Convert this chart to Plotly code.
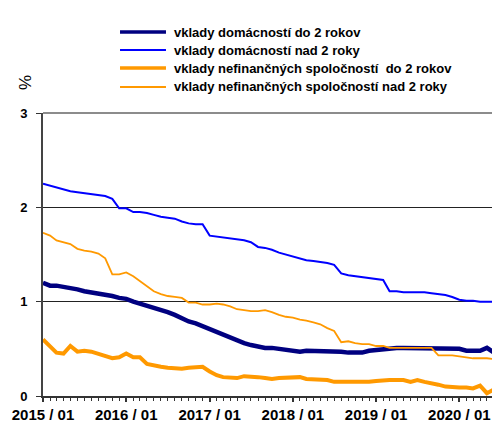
import plotly.graph_objects as go
import pandas as pd

months = pd.date_range("2015-01-01", periods=66, freq="MS")

series_names = [
    "vklady domácností do 2 rokov",
    "vklady domácností nad 2 roky",
    "vklady nefinančných spoločností  do 2 rokov",
    "vklady nefinančných spoločností nad 2 roky",
]

hh_short = [1.20, 1.17, 1.17, 1.16, 1.15, 1.13, 1.11, 1.10, 1.09, 1.07,
            1.06, 1.04, 1.03, 1.00, 0.98, 0.96, 0.93, 0.91, 0.89, 0.86,
            0.82, 0.79, 0.77, 0.74, 0.70, 0.67, 0.64, 0.62, 0.58, 0.56,
            0.54, 0.52, 0.51, 0.51, 0.50, 0.49, 0.48, 0.47, 0.48, 0.48,
            0.48, 0.48, 0.47, 0.47, 0.46, 0.46, 0.46, 0.48, 0.49, 0.50,
            0.51, 0.51, 0.51, 0.51, 0.51, 0.51, 0.51, 0.51, 0.51, 0.50,
            0.50, 0.48, 0.48, 0.48, 0.51, 0.46]

hh_long = [2.25, 2.23, 2.21, 2.19, 2.17, 2.16, 2.15, 2.14, 2.13, 2.12,
           2.09, 1.99, 1.99, 1.95, 1.95, 1.94, 1.92, 1.90, 1.89, 1.88,
           1.85, 1.83, 1.82, 1.82, 1.70, 1.69, 1.68, 1.67, 1.66, 1.65,
           1.63, 1.58, 1.57, 1.55, 1.52, 1.50, 1.48, 1.46, 1.44, 1.43,
           1.42, 1.41, 1.39, 1.30, 1.28, 1.27, 1.26, 1.25, 1.24, 1.23,
           1.11, 1.11, 1.10, 1.10, 1.10, 1.10, 1.09, 1.08, 1.07, 1.05,
           1.02, 1.01, 1.01, 1.00, 1.00, 1.00]

nfc_short = [0.60, 0.52, 0.46, 0.45, 0.53, 0.47, 0.48, 0.47, 0.45, 0.43,
             0.40, 0.41, 0.45, 0.41, 0.41, 0.34, 0.32, 0.31, 0.30, 0.29,
             0.29, 0.30, 0.30, 0.31, 0.26, 0.22, 0.20, 0.20, 0.19, 0.21,
             0.21, 0.20, 0.19, 0.18, 0.19, 0.19, 0.19, 0.20, 0.18, 0.18,
             0.18, 0.17, 0.15, 0.15, 0.15, 0.14, 0.14, 0.15, 0.16, 0.17,
             0.17, 0.17, 0.17, 0.15, 0.17, 0.15, 0.14, 0.12, 0.10, 0.09,
             0.09, 0.09, 0.08, 0.11, 0.03, 0.07]

nfc_long = [1.73, 1.70, 1.65, 1.63, 1.61, 1.56, 1.54, 1.53, 1.51, 1.46,
            1.29, 1.29, 1.31, 1.27, 1.22, 1.17, 1.11, 1.08, 1.06, 1.05,
            1.04, 0.99, 0.99, 0.97, 0.97, 0.98, 0.97, 0.95, 0.92, 0.91,
            0.90, 0.90, 0.91, 0.89, 0.86, 0.84, 0.83, 0.81, 0.80, 0.78,
            0.76, 0.72, 0.69, 0.57, 0.58, 0.56, 0.55, 0.55, 0.53, 0.53,
            0.51, 0.51, 0.51, 0.51, 0.51, 0.51, 0.51, 0.43, 0.43, 0.43,
            0.42, 0.41, 0.40, 0.40, 0.40, 0.39]

x_tick_vals = ["2015-01-01", "2016-01-01", "2017-01-01",
               "2018-01-01", "2019-01-01", "2020-01-01"]
x_tick_text = ["2015 / 01", "2016 / 01", "2017 / 01",
               "2018 / 01", "2019 / 01", "2020 / 01"]
y_tick_vals = [0, 1, 2, 3]
y_tick_text = ["0", "1", "2", "3"]

series_values = [hh_short, hh_long, nfc_short, nfc_long]
colors = ["#000080", "#0000FF", "#FF9900", "#FF9900"]
widths = [4.5, 2, 4, 1.8]
legend_widths = [3.5, 2, 3.5, 2]

FONT = "Arial, 'Liberation Sans', sans-serif"

fig = go.Figure()
for name, vals, c, w in zip(series_names, series_values, colors, widths):
    fig.add_trace(go.Scatter(x=months, y=vals, mode="lines", name=name,
                             line=dict(color=c, width=w), showlegend=False))

# hand-drawn legend (line samples + labels) placed above the plot area
legend_rows_y = [1.2862, 1.2226, 1.1590, 1.0919]
shapes = []
annotations = []
for name, c, lw, ly in zip(series_names, colors, legend_widths, legend_rows_y):
    shapes.append(dict(type="line", xref="paper", yref="paper",
                       x0=0.1689, x1=0.2697, y0=ly, y1=ly,
                       line=dict(color=c, width=lw)))
    annotations.append(dict(text=name, xref="paper", yref="paper",
                            x=0.2829, y=ly, xanchor="left", yanchor="middle",
                            showarrow=False,
                            font=dict(family=FONT, size=13, color="black",
                                      weight="bold")))

annotations.append(dict(text="%", xref="paper", yref="paper", x=-0.0395, y=1.1095,
                        textangle=-90, showarrow=False, xanchor="center",
                        yanchor="middle",
                        font=dict(family=FONT, size=17, color="black")))
shapes += [
    dict(type="line", xref="paper", yref="paper", x0=0, x1=1, y0=1, y1=1,
         line=dict(color="#8c8c8c", width=2), layer="above"),
    dict(type="line", xref="paper", yref="paper", x0=1, x1=1, y0=0, y1=1,
         line=dict(color="#8c8c8c", width=2), layer="above"),
]

fig.update_layout(
    width=492, height=415,
    margin=dict(l=35, r=1, t=105, b=27, autoexpand=False),
    paper_bgcolor="white", plot_bgcolor="white",
    font=dict(family=FONT, color="black"),
    showlegend=False,
    xaxis=dict(type="date", range=["2015-01-01", "2020-06-23"],
               tickvals=x_tick_vals, ticktext=x_tick_text,
               ticks="outside", ticklen=4, tickwidth=1.5, tickcolor="#333",
               showline=True, linecolor="#333", linewidth=2,
               showgrid=False, zeroline=False, automargin=False,
               minor=dict(dtick="M1", tick0="2015-01-01", ticks="outside",
                          ticklen=3, tickwidth=1, tickcolor="#333",
                          showgrid=False),
               tickfont=dict(family=FONT, size=15, color="black", weight="bold")),
    yaxis=dict(range=[0, 3], tickvals=y_tick_vals, ticktext=y_tick_text,
               ticks="outside", ticklen=5, tickwidth=1, tickcolor="#333",
               showline=True, linecolor="#444", linewidth=2,
               showgrid=True, gridcolor="#222", gridwidth=1, zeroline=False,
               ticklabelstandoff=6, automargin=False,
               tickfont=dict(family=FONT, size=13, color="black", weight="bold")),
    annotations=annotations,
    shapes=shapes,
)

fig.write_html("out.html")
